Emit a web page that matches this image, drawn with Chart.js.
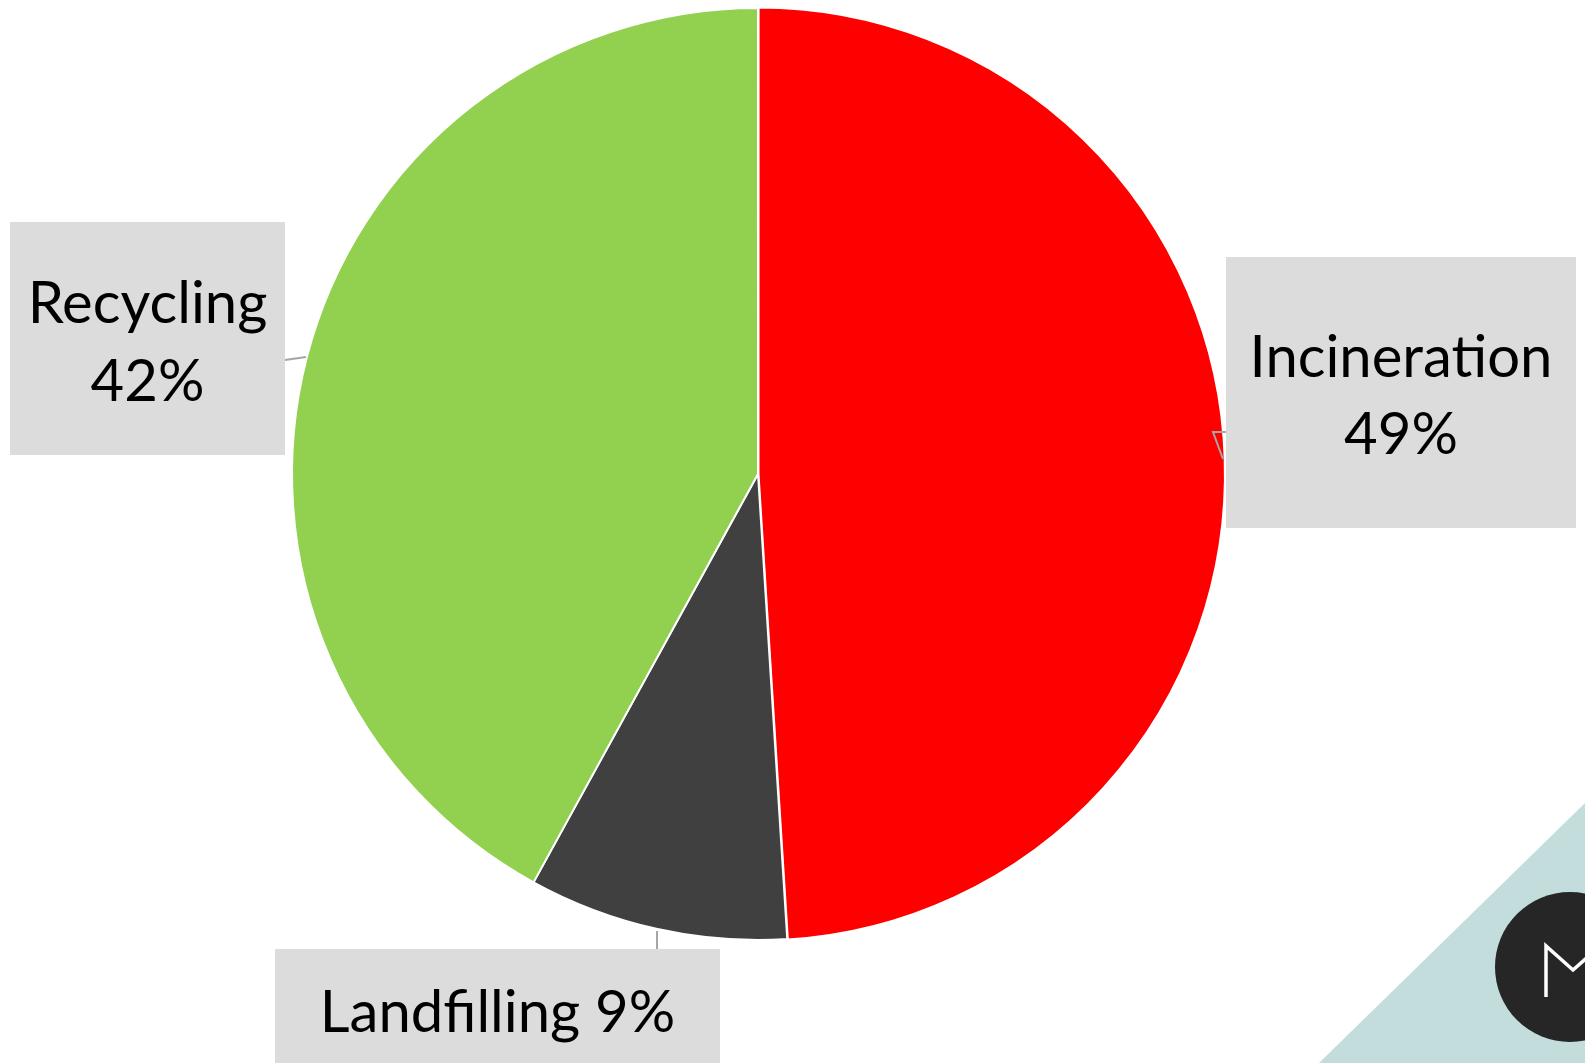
<!DOCTYPE html>
<html>
<head>
<meta charset="utf-8">
<script src="https://cdn.jsdelivr.net/npm/chart.js@4.4.0/dist/chart.umd.min.js"></script>
<style>
  html, body { margin: 0; padding: 0; background: #ffffff; }
  #wrap { width: 1585px; height: 1063px; position: relative; }
</style>
</head>
<body>
<div id="wrap"><canvas id="c" width="1585" height="1063"></canvas></div>
<script>
// ---- data ----
const categories = ['Incineration', 'Landfilling', 'Recycling'];
const shares = [49, 9, 42];
const sliceColors = ['#ff0000', '#404040', '#92d050'];

// ---- label boxes (layout only) ----
const labelFont = '400 58px Lato, "Open Sans", "Liberation Sans", sans-serif';
const boxes = [
  { x: 1226, y: 257, w: 350, h: 271, lines: (l, v) => [l, v + '%'], baselines: [377, 454],
    leader: [[1226, 432], [1213, 432], [1223, 459]] },
  { x: 275, y: 949, w: 445, h: 114, lines: (l, v) => [l + ' ' + v + '%'], baselines: [1032],
    leader: [[657, 931], [657, 949]] },
  { x: 10, y: 222, w: 275, h: 233, lines: (l, v) => [l, v + '%'], baselines: [323, 401],
    leader: [[285, 360], [306, 357]] }
];

const decorPlugin = {
  id: 'decor',
  beforeDraw(chart) {
    const ctx = chart.ctx;
    ctx.save();
    // teal triangle in the corner
    ctx.fillStyle = '#c2dddc';
    ctx.beginPath();
    ctx.moveTo(1585, 803);
    ctx.lineTo(1585, 1063);
    ctx.lineTo(1319, 1063);
    ctx.closePath();
    ctx.fill();
    // dark circle logo
    ctx.fillStyle = '#262626';
    ctx.beginPath();
    ctx.arc(1570, 967, 75, 0, Math.PI * 2);
    ctx.fill();
    ctx.strokeStyle = '#ffffff';
    ctx.lineWidth = 3.5;
    ctx.lineJoin = 'miter';
    ctx.beginPath();
    ctx.moveTo(1546, 997);
    ctx.lineTo(1546, 946);
    ctx.lineTo(1573, 970);
    ctx.lineTo(1600, 946);
    ctx.stroke();
    ctx.restore();
  },
  afterDraw(chart) {
    const ctx = chart.ctx;
    ctx.save();
    boxes.forEach((b, i) => {
      // leader line
      ctx.strokeStyle = '#a6a6a6';
      ctx.lineWidth = 2;
      ctx.beginPath();
      b.leader.forEach((p, k) => k ? ctx.lineTo(p[0], p[1]) : ctx.moveTo(p[0], p[1]));
      ctx.stroke();
      // box
      ctx.fillStyle = '#dcdcdc';
      ctx.fillRect(b.x, b.y, b.w, b.h);
      // text
      ctx.fillStyle = '#000000';
      ctx.font = labelFont;
      ctx.textAlign = 'center';
      ctx.textBaseline = 'alphabetic';
      const lines = b.lines(categories[i], shares[i]);
      lines.forEach((t, k) => ctx.fillText(t, b.x + b.w / 2, b.baselines[k]));
    });
    ctx.restore();
  }
};

new Chart(document.getElementById('c'), {
  type: 'pie',
  data: {
    labels: categories,
    datasets: [{
      data: shares,
      backgroundColor: sliceColors,
      borderColor: '#ffffff',
      borderWidth: 2,
      offset: [2, 0, 0]
    }]
  },
  options: {
    responsive: false,
    animation: false,
    radius: 466,
    layout: { padding: { left: 0, right: 69, top: 0, bottom: 115 } },
    plugins: {
      legend: { display: false },
      tooltip: { enabled: false },
      title: { display: false }
    }
  },
  plugins: [decorPlugin]
});
</script>
</body>
</html>
